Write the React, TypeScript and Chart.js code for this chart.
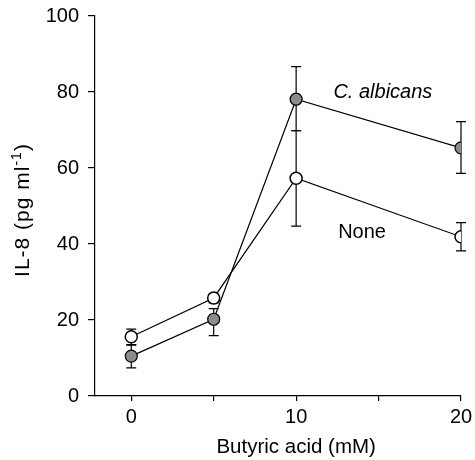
import React, { useEffect, useRef } from "react";
import { Chart, registerables } from "chart.js";

Chart.register(...registerables);

const xValues = [0, 5, 10, 20];
const albicans = [10.5, 20.2, 78.1, 65.3];
const albicansHi = [13.5, 23.0, 86.7, 72.2];
const albicansLo = [7.4, 15.9, 69.8, 58.6];
const none = [15.6, 25.8, 57.3, 41.9];
const noneHi = [17.6, 26.8, 69.8, 45.6];
const noneLo = [13.4, 24.5, 44.7, 38.2];

const xTickValues = [0, 5, 10, 15, 20];
const xTickLabels = ["0", "", "10", "", "20"];
const seriesLabels = ["C. albicans", "None"];
const labelX = [15.26, 14.0];
const labelY = [79.8, 42.9];
const xTitle = "Butyric acid (mM)";

const FONT = "'Liberation Sans', Arial, Helvetica, sans-serif";

const errorBarPlugin = {
  id: "errorBars",
  beforeDatasetsDraw(chart: any) {
    const ctx = chart.ctx;
    const xs = chart.scales.x;
    const ys = chart.scales.y;
    const groups = [
      [albicansLo, albicansHi],
      [noneLo, noneHi],
    ];
    ctx.save();
    ctx.strokeStyle = "#000";
    ctx.lineWidth = 1.2;
    groups.forEach(([lo, hi]) => {
      xValues.forEach((xv, i) => {
        const px = xs.getPixelForValue(xv);
        const pl = ys.getPixelForValue(lo[i]);
        const ph = ys.getPixelForValue(hi[i]);
        ctx.beginPath();
        ctx.moveTo(px, pl);
        ctx.lineTo(px, ph);
        ctx.moveTo(px - 5, pl);
        ctx.lineTo(px + 5, pl);
        ctx.moveTo(px - 5, ph);
        ctx.lineTo(px + 5, ph);
        ctx.stroke();
      });
    });
    ctx.restore();
  },
};

const textPlugin = {
  id: "texts",
  afterDraw(chart: any) {
    const ctx = chart.ctx;
    const xs = chart.scales.x;
    const ys = chart.scales.y;
    ctx.save();
    ctx.fillStyle = "#000";
    // series labels
    ctx.textAlign = "center";
    ctx.textBaseline = "middle";
    seriesLabels.forEach((t, i) => {
      ctx.font = (i === 0 ? "italic " : "") + "20px " + FONT;
      ctx.fillText(t, xs.getPixelForValue(labelX[i]), ys.getPixelForValue(labelY[i]));
    });
    // x title centered on data range
    ctx.font = "20.5px " + FONT;
    ctx.textBaseline = "alphabetic";
    const cx = (xs.getPixelForValue(xTickValues[0]) + xs.getPixelForValue(xTickValues[xTickValues.length - 1])) / 2;
    ctx.fillText(xTitle, cx, chart.chartArea.bottom + 57);
    // y title with superscript
    const main1 = "IL-8 (pg ml";
    const sup = "-1";
    const main2 = ")";
    try {
      (ctx as any).letterSpacing = "1px";
    } catch (e) {}
    ctx.font = "21px " + FONT;
    const w1 = ctx.measureText(main1).width;
    const w3 = ctx.measureText(main2).width;
    ctx.font = "14px " + FONT;
    const w2 = ctx.measureText(sup).width;
    const total = w1 + w2 + w3;
    const cy = (chart.chartArea.top + chart.chartArea.bottom) / 2 + 4;
    ctx.translate(29, cy);
    ctx.rotate(-Math.PI / 2);
    ctx.textAlign = "left";
    ctx.textBaseline = "alphabetic";
    let x0 = -total / 2;
    ctx.font = "21px " + FONT;
    ctx.fillText(main1, x0, 0);
    x0 += w1;
    ctx.font = "14px " + FONT;
    ctx.fillText(sup, x0, -8);
    x0 += w2;
    ctx.font = "21px " + FONT;
    ctx.fillText(main2, x0, 0);
    ctx.restore();
  },
};

export default function App() {
  const ref = useRef<HTMLCanvasElement>(null);
  useEffect(() => {
    if (!ref.current) return;
    const chart = new Chart(ref.current, {
      type: "line",
      data: {
        datasets: [
          {
            label: seriesLabels[0],
            data: xValues.map((x, i) => ({ x, y: albicans[i] })),
            borderColor: "#000",
            borderWidth: 1.2,
            backgroundColor: "#8c8c8c",
            pointBackgroundColor: "#8c8c8c",
            pointBorderColor: "#000",
            pointBorderWidth: 1.2,
            pointRadius: 6,
            tension: 0,
          },
          {
            label: seriesLabels[1],
            data: xValues.map((x, i) => ({ x, y: none[i] })),
            borderColor: "#000",
            borderWidth: 1.2,
            backgroundColor: "#fff",
            pointBackgroundColor: "#fff",
            pointBorderColor: "#000",
            pointBorderWidth: 1.5,
            pointRadius: 6,
            tension: 0,
          },
        ],
      },
      options: {
        animation: false,
        responsive: true,
        maintainAspectRatio: false,
        layout: { padding: { top: 16, right: 14, left: 0, bottom: 0 } },
        plugins: { legend: { display: false }, tooltip: { enabled: false } },
        scales: {
          x: {
            type: "linear",
            min: -2.2,
            max: 20,
            afterBuildTicks: (scale: any) => {
              scale.ticks = xTickValues.map((v) => ({ value: v }));
            },
            afterFit: (scale: any) => {
              scale.height = 64;
              scale.paddingLeft = 0;
              scale.paddingRight = 0;
            },
            grid: { drawOnChartArea: false, drawTicks: true, tickLength: 5, color: "#000", lineWidth: 1.2 },
            border: { display: true, color: "#000", width: 1.2 },
            ticks: {
              autoSkip: false,
              maxRotation: 0,
              padding: 4,
              color: "#000",
              font: { family: FONT, size: 20 },
              callback: (_v: any, i: number) => xTickLabels[i],
            },
          },
          y: {
            min: 0,
            max: 100,
            afterFit: (scale: any) => {
              scale.width = 95;
              scale.paddingTop = 0;
              scale.paddingBottom = 0;
            },
            grid: { drawOnChartArea: false, drawTicks: true, tickLength: 7, color: "#000", lineWidth: 1.2 },
            border: { display: true, color: "#000", width: 1.2 },
            ticks: {
              stepSize: 20,
              padding: 9,
              color: "#000",
              font: { family: FONT, size: 20 },
            },
          },
        },
      },
      plugins: [errorBarPlugin, textPlugin],
    } as any);
    return () => chart.destroy();
  }, []);
  return (
    <div style={{ position: "absolute", left: 0, top: 0, width: 475, height: 460, background: "#fff" }}>
      <canvas ref={ref} />
    </div>
  );
}
